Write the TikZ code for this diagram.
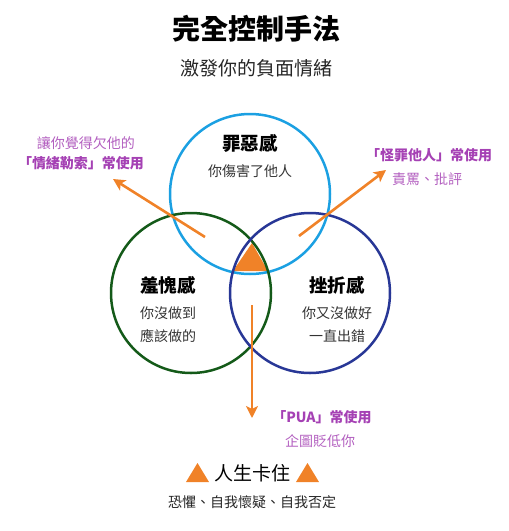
\documentclass[tikz,border=0pt]{standalone}
\usepackage{fontspec}
\setmainfont{Noto Sans CJK TC}
\usepackage{tikz}
\usetikzlibrary{arrows.meta}

\definecolor{topblue}{RGB}{27,160,226}
\definecolor{leftgreen}{RGB}{20,90,25}
\definecolor{rightblue}{RGB}{40,55,150}
\definecolor{arroworange}{RGB}{240,130,40}
\definecolor{labelpurple}{RGB}{165,65,180}

\begin{document}
\begin{tikzpicture}[x=1pt, y=-1pt,
    ring/.style = {line width=2.5pt},
    head/.style = {font=\fontsize{18.5}{20}\selectfont\bfseries},
    sub/.style = {font=\fontsize{14}{16}\selectfont, text=black!80},
    tag/.style = {font=\fontsize{14}{16}\selectfont\bfseries, text=labelpurple},
    tagsub/.style = {font=\fontsize{14}{16}\selectfont, text=labelpurple!85},
    push/.style = {draw=arroworange, line width=2.6pt, -{Stealth[length=12pt,width=12pt,inset=3pt]}}]
    \useasboundingbox (0,0) rectangle (509,531);

    % title
    \node[font=\fontsize{28}{30}\selectfont\bfseries] (title) at (256,29) {完全控制手法};
    \node[font=\fontsize{19}{22}\selectfont, text=black!85] (subtitle) at (256,68) {激發你的負面情緒};

    % triangle under the rings
    \fill[arroworange] (233,271) -- (252,243) -- (268,271) -- cycle;

    % rings
    \draw[ring, topblue] (250,194) circle (80);
    \draw[ring, leftgreen] (191,293) circle (80);
    \draw[ring, rightblue] (310,293) circle (80);

    \node[head] (guilt) at (250,143) {罪惡感};
    \node[sub] (guiltA) at (250,171) {你傷害了他人};
    \node[head] (shame) at (168,285) {羞愧感};
    \node[sub] (shameA) at (168,313) {你沒做到};
    \node[sub] (shameB) at (168,336) {應該做的};
    \node[head] (fail) at (337,285) {挫折感};
    \node[sub] (failA) at (337,313) {你又沒做好};
    \node[sub] (failB) at (337,336) {一直出錯};

    % arrows
    \coordinate (lstart) at (205,237);
    \coordinate (lend) at (113,179);
    \coordinate (rstart) at (299,236);
    \coordinate (rend) at (386,170);
    \coordinate (dstart) at (252,305);
    \coordinate (dend) at (252,418);
    \draw[push] (lstart) -- (lend);
    \draw[push] (rstart) -- (rend);
    \draw[push] (dstart) -- (dend);

    % labels
    \node[tagsub] (blackmailA) at (86,143) {讓你覺得欠他的};
    \node[tag] (blackmailB) at (81,163) {「情緒勒索」常使用};
    \node[tag] (blameA) at (429,155) {「怪罪他人」常使用};
    \node[tagsub] (blameB) at (427,179) {責罵、批評};
    \node[tag] (puaA) at (322,417) {「PUA」常使用};
    \node[tagsub] (puaB) at (320,441) {企圖貶低你};

    % bottom
    \node[font=\fontsize{19}{22}\selectfont] (stuck) at (252,473) {人生卡住};
    \fill[arroworange] (186,482) -- (209,482) -- (197.5,463) -- cycle;
    \fill[arroworange] (296,482) -- (319,482) -- (307.5,463) -- cycle;
    \node[font=\fontsize{14}{16}\selectfont, text=black!85] (doubt) at (252,502) {恐懼、自我懷疑、自我否定};
\end{tikzpicture}
\end{document}
